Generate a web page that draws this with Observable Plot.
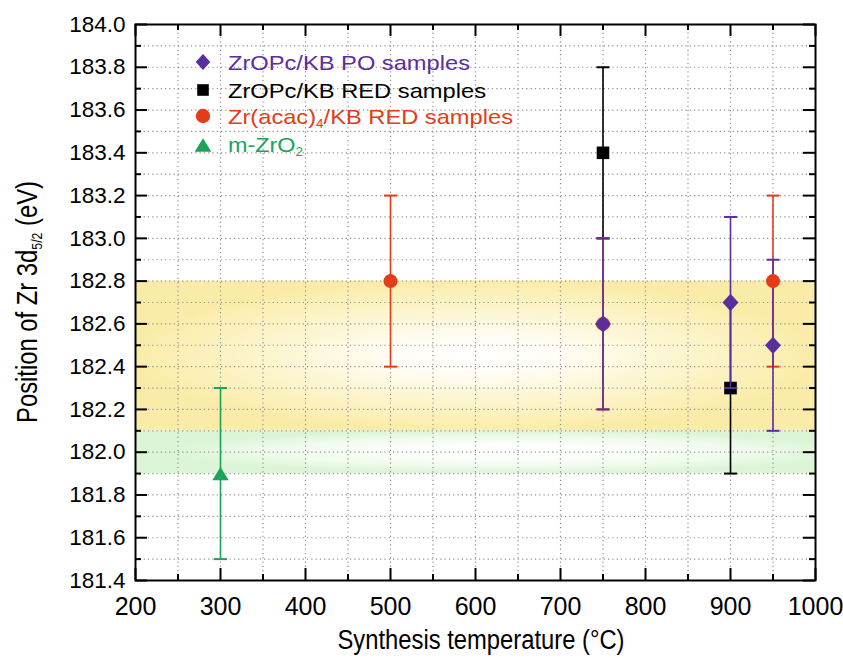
<!DOCTYPE html>
<html>
<head>
<meta charset="utf-8">
<script src="https://cdn.jsdelivr.net/npm/d3@7"></script>
<script src="https://cdn.jsdelivr.net/npm/@observablehq/plot@0.6"></script>
<style>
  html, body { margin: 0; padding: 0; background: #fff; }
  #chart { width: 843px; height: 658px; }
</style>
</head>
<body>
<div id="chart"></div>
<script>
// ---- Data: Zr 3d5/2 binding energy vs synthesis temperature ----
const poTemp = [750, 900, 950];          // ZrOPc/KB PO samples
const poPos  = [182.6, 182.7, 182.5];
const poErr  = [0.4, 0.4, 0.4];

const redTemp = [750, 900];              // ZrOPc/KB RED samples
const redPos  = [183.4, 182.3];
const redErr  = [0.4, 0.4];

const acacTemp = [500, 750, 950];        // Zr(acac)4/KB RED samples
const acacPos  = [182.8, 182.6, 182.8];
const acacErr  = [0.4, 0.4, 0.4];

const zro2Temp = [300];                  // m-ZrO2 reference
const zro2Pos  = [181.9];
const zro2Err  = [0.4];

// Reference ranges shaded behind the points
const yellowBand = [182.1, 182.8];
const greenBand  = [181.9, 182.1];

// Axes
const xDomain = [200, 1000];
const yDomain = [181.4, 184.0];
const xMajor = [200, 300, 400, 500, 600, 700, 800, 900, 1000];
const xMinor = [250, 350, 450, 550, 650, 750, 850, 950];
const yMajor = [181.4, 181.6, 181.8, 182.0, 182.2, 182.4, 182.6, 182.8, 183.0, 183.2, 183.4, 183.6, 183.8, 184.0];
const yMinor = [181.5, 181.7, 181.9, 182.1, 182.3, 182.5, 182.7, 182.9, 183.1, 183.3, 183.5, 183.7, 183.9];

// ---- Layout & style ----
const W = 843, H = 658;
const M = {top: 24, right: 28, bottom: 78, left: 135};
const frameW = W - M.left - M.right;
const frameH = H - M.top - M.bottom;
const FONT = "'Liberation Sans', Arial, Helvetica, sans-serif";

const PURPLE = "#5a2e9f";
const BLACK = "#000000";
const RED = "#e23c18";
const GREEN = "#1ba35a";

const rows = (temps, pos, err) =>
  temps.map((t, i) => ({t, p: pos[i], lo: pos[i] - err[i], hi: pos[i] + err[i]}));

const po = rows(poTemp, poPos, poErr);
const red = rows(redTemp, redPos, redErr);
const acac = rows(acacTemp, acacPos, acacErr);
const zro2 = rows(zro2Temp, zro2Pos, zro2Err);

// ---- Custom symbols ----
const unit = (size) => Math.sqrt(size / Math.PI);
const capSymbol = {draw(ctx, size) { const r = unit(size); ctx.moveTo(-r, 0); ctx.lineTo(r, 0); }};
const diamondSymbol = {draw(ctx, size) {
  const r = unit(size);
  ctx.moveTo(0, -r * 1.08); ctx.lineTo(r, 0); ctx.lineTo(0, r * 1.08); ctx.lineTo(-r, 0); ctx.closePath();
}};
const squareSymbol = {draw(ctx, size) { const r = unit(size); ctx.rect(-r, -r, 2 * r, 2 * r); }};
const triangleSymbol = {draw(ctx, size) {
  const r = unit(size);
  ctx.moveTo(0, -r * 0.8); ctx.lineTo(r, r * 0.8); ctx.lineTo(-r, r * 0.8); ctx.closePath();
}};

function errorBars(data, color) {
  return [
    Plot.ruleX(data, {x: "t", y1: "lo", y2: "hi", stroke: color, strokeWidth: 1.6}),
    Plot.dot(data, {x: "t", y: "lo", symbol: capSymbol, r: 6.5, stroke: color, strokeWidth: 2, fill: "none"}),
    Plot.dot(data, {x: "t", y: "hi", symbol: capSymbol, r: 6.5, stroke: color, strokeWidth: 2, fill: "none"})
  ];
}

// ---- Gradient definitions for the shaded bands ----
function glowDefs() {
  const defs = d3.create("svg:defs");
  const y = defs.append("radialGradient").attr("id", "yellowGlow")
    .attr("cx", 0.5).attr("cy", 0.5).attr("r", 0.5);
  [[0, "#ffffff"], [0.25, "#fffdf5"], [0.55, "#fdf6d4"], [0.85, "#fbf0b8"], [1, "#faeca8"]]
    .forEach(([o, c]) => y.append("stop").attr("offset", o).attr("stop-color", c));
  const g = defs.append("radialGradient").attr("id", "greenGlow")
    .attr("cx", 0.55).attr("cy", 0.5).attr("r", 0.5);
  [[0, "#ffffff"], [0.35, "#fbfefa"], [0.7, "#effaec"], [1, "#dcf5d6"]]
    .forEach(([o, c]) => g.append("stop").attr("offset", o).attr("stop-color", c));
  return defs.node();
}

// ---- Legend and axis titles (with subscripts) ----
function annotations(index, scales, values, dims) {
  const g = d3.create("svg:g").attr("font-family", FONT).attr("text-anchor", "start");
  const ml = dims.marginLeft, mt = dims.marginTop;

  // y-axis title
  const yt = g.append("text")
    .attr("transform", `translate(37,${mt + (dims.height - mt - dims.marginBottom) / 2}) rotate(-90)`)
    .attr("text-anchor", "middle").attr("font-size", 29)
    .attr("textLength", 242).attr("lengthAdjust", "spacingAndGlyphs").attr("fill", "#000");
  yt.append("tspan").text("Position of Zr 3d");
  yt.append("tspan").attr("font-size", 15).attr("dy", 5).text("5/2");
  yt.append("tspan").attr("dy", -5).text(" (eV)");

  // x-axis title
  g.append("text")
    .attr("x", ml + (dims.width - ml - dims.marginRight) / 2 + 6).attr("y", 649)
    .attr("text-anchor", "middle").attr("font-size", 27)
    .attr("textLength", 287).attr("lengthAdjust", "spacingAndGlyphs").attr("fill", "#000")
    .text("Synthesis temperature (°C)");

  // Legend
  const sx = ml + 68, tx = ml + 93;
  const entries = [
    {color: PURPLE, y: mt + 38, base: mt + 45.5, len: 242, sym: diamondSymbol, r: 7.3},
    {color: BLACK,  y: mt + 66, base: mt + 73.5, len: 258, sym: squareSymbol, r: 5.8},
    {color: RED,    y: mt + 92, base: mt + 99.5, len: 285, sym: null, r: 7.2},
    {color: GREEN,  y: mt + 121, base: mt + 127.5, len: 75, sym: triangleSymbol, r: 8.3}
  ];
  entries.forEach((e) => {
    if (e.sym) {
      g.append("path").attr("transform", `translate(${sx},${e.y})`)
        .attr("d", d3.symbol(e.sym, Math.PI * e.r * e.r)()).attr("fill", e.color);
    } else {
      g.append("circle").attr("cx", sx).attr("cy", e.y).attr("r", e.r).attr("fill", e.color);
    }
  });
  const label = (e) => g.append("text").attr("x", tx).attr("y", e.base).attr("font-size", 21)
    .attr("text-anchor", "start").attr("fill", e.color)
    .attr("textLength", e.len).attr("lengthAdjust", "spacingAndGlyphs");
  label(entries[0]).text("ZrOPc/KB PO samples");
  label(entries[1]).text("ZrOPc/KB RED samples");
  const t3 = label(entries[2]);
  t3.append("tspan").text("Zr(acac)");
  t3.append("tspan").attr("font-size", 12).attr("dy", 4).text("4");
  t3.append("tspan").attr("dy", -4).text("/KB RED samples");
  const t4 = label(entries[3]);
  t4.append("tspan").text("m-ZrO");
  t4.append("tspan").attr("font-size", 12).attr("dy", 4).text("2");
  return g.node();
}

const gridStyle = {stroke: "#8f8f8f", strokeOpacity: 1, strokeWidth: 1.2, strokeDasharray: "1.2,3.1"};
const tickStyle = {stroke: "#000", strokeWidth: 2};

const chart = Plot.plot({
  width: W,
  height: H,
  marginTop: M.top,
  marginRight: M.right,
  marginBottom: M.bottom,
  marginLeft: M.left,
  style: {fontFamily: FONT, color: "#000", background: "#fff", overflow: "visible"},
  x: {domain: xDomain, axis: null},
  y: {domain: yDomain, axis: null},
  marks: [
    glowDefs,
    // shaded reference ranges
    Plot.rect([{y1: yellowBand[0], y2: yellowBand[1]}], {x1: xDomain[0], x2: xDomain[1], y1: "y1", y2: "y2", fill: "url(#yellowGlow)"}),
    Plot.rect([{y1: greenBand[0], y2: greenBand[1]}], {x1: xDomain[0], x2: xDomain[1], y1: "y1", y2: "y2", fill: "url(#greenGlow)"}),
    // dotted grid
    Plot.gridX([...xMinor, ...xMajor.slice(1, -1)], gridStyle),
    Plot.gridY([...yMinor, ...yMajor.slice(1, -1)], gridStyle),
    // inward ticks on all four sides
    Plot.tickY(yMajor, {y: (d) => d, ...tickStyle, insetRight: frameW - 12}),
    Plot.tickY(yMinor, {y: (d) => d, ...tickStyle, insetRight: frameW - 6}),
    Plot.tickY(yMajor, {y: (d) => d, ...tickStyle, insetLeft: frameW - 12}),
    Plot.tickY(yMinor, {y: (d) => d, ...tickStyle, insetLeft: frameW - 6}),
    Plot.tickX(xMajor, {x: (d) => d, ...tickStyle, insetTop: frameH - 12}),
    Plot.tickX(xMinor, {x: (d) => d, ...tickStyle, insetTop: frameH - 6}),
    Plot.tickX(xMajor, {x: (d) => d, ...tickStyle, insetBottom: frameH - 12}),
    Plot.tickX(xMinor, {x: (d) => d, ...tickStyle, insetBottom: frameH - 6}),
    // tick labels
    Plot.axisX(xMajor, {anchor: "bottom", tickSize: 0, tickPadding: 17, fontSize: 25, label: null, tickFormat: (d) => String(d)}),
    Plot.axisY(yMajor, {anchor: "left", tickSize: 0, tickPadding: 10, fontSize: 22.5, label: null, tickFormat: (d) => d.toFixed(1)}),
    // m-ZrO2
    ...errorBars(zro2, GREEN),
    Plot.dot(zro2, {x: "t", y: "p", symbol: triangleSymbol, r: 8.2, fill: GREEN, stroke: "none"}),
    // ZrOPc/KB RED
    ...errorBars(red, BLACK),
    Plot.dot(red, {x: "t", y: "p", symbol: squareSymbol, r: 6.3, fill: BLACK, stroke: "none"}),
    // Zr(acac)4/KB RED bars, then ZrOPc/KB PO bars
    ...errorBars(acac, RED),
    ...errorBars(po, PURPLE),
    Plot.dot(acac, {x: "t", y: "p", r: 7, fill: RED, stroke: "none"}),
    Plot.dot(po, {x: "t", y: "p", symbol: diamondSymbol, r: 8, fill: PURPLE, stroke: "none"}),
    Plot.frame({stroke: "#000", strokeWidth: 2}),
    annotations
  ]
});

document.getElementById("chart").appendChild(chart);
</script>
</body>
</html>
